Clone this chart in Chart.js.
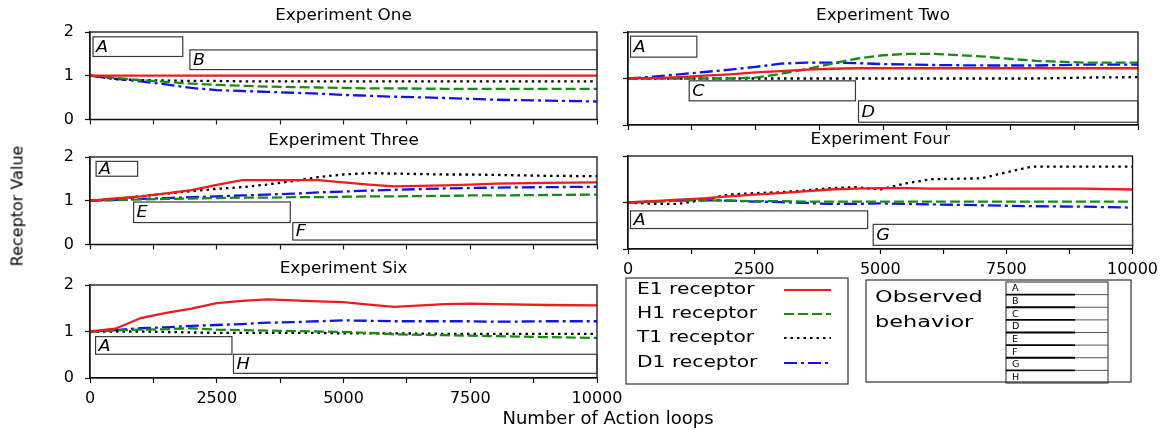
<!DOCTYPE html>
<html>
<head>
<meta charset="utf-8">
<title>Receptor values per experiment</title>
<script src="https://cdn.jsdelivr.net/npm/chart.js@4.4.1/dist/chart.umd.min.js"></script>
<style>
  html, body { margin: 0; padding: 0; background: #fff; }
  body { width: 1164px; height: 434px; position: relative; overflow: hidden; font-family: 'DejaVu Sans', sans-serif; }
  .panel { position: absolute; }
  .panel canvas { display: block; }
  .left-col { left: 0; width: 640px; }
  .right-col { left: 560px; width: 604px; }
  .axis-label { position: absolute; white-space: nowrap; color: #000; }
  .y-label { left: 17px; top: 206px; font-size: 16px; transform: translate(-50%, -50%) rotate(-90deg); }
  .x-label { left: 608px; top: 417px; font-size: 18px; transform: translate(-50%, -50%); }
</style>
</head>
<body>

<div class="panel left-col" style="top:0;height:140px"><canvas id="expOne"></canvas></div>
<div class="panel right-col" style="top:0;height:140px"><canvas id="expTwo"></canvas></div>
<div class="panel left-col" style="top:125px;height:140px"><canvas id="expThree"></canvas></div>
<div class="panel left-col" style="top:253px;height:181px"><canvas id="expSix"></canvas></div>
<div class="panel right-col" style="top:124px;height:310px"><canvas id="expFour"></canvas></div>

<div class="axis-label y-label">Receptor Value</div>
<div class="axis-label x-label">Number of Action loops</div>

<script>
// ---------- data ----------
var loops = [0, 500, 1000, 1500, 2000, 2500, 3000, 3500, 4000, 4500, 5000, 5500, 6000, 7000, 7500, 8000, 9000, 10000];
var receptorNames = ['E1 receptor', 'H1 receptor', 'T1 receptor', 'D1 receptor'];
var xTickLabels = ['0', '2500', '5000', '7500', '10000'];
var yTickLabels = ['0', '1', '2'];

// Experiment One
var oneE1 = [1, 1, 1, 1, 1, 1, 1, 1, 1, 1, 1, 1, 1, 1, 1, 1, 1, 1];
var oneH1 = [1, 0.95, 0.9, 0.86, 0.82, 0.79, 0.77, 0.75, 0.74, 0.73, 0.72, 0.71, 0.71, 0.7, 0.7, 0.7, 0.7, 0.7];
var oneT1 = [1, 0.92, 0.9, 0.89, 0.88, 0.88, 0.87, 0.87, 0.87, 0.87, 0.87, 0.87, 0.87, 0.87, 0.87, 0.87, 0.87, 0.87];
var oneD1 = [1, 0.93, 0.87, 0.8, 0.72, 0.67, 0.65, 0.63, 0.61, 0.59, 0.56, 0.54, 0.52, 0.49, 0.47, 0.45, 0.43, 0.41];

// Experiment Two
var twoE1 = [1, 1.01, 1.03, 1.06, 1.09, 1.13, 1.16, 1.19, 1.21, 1.22, 1.22, 1.22, 1.22, 1.22, 1.22, 1.22, 1.22, 1.22];
var twoH1 = [1, 1, 1, 1, 1, 1.02, 1.1, 1.2, 1.32, 1.43, 1.5, 1.53, 1.53, 1.47, 1.42, 1.38, 1.34, 1.34];
var twoT1 = [1, 1, 1, 1, 1, 1, 1, 1, 1, 1, 1, 1, 1, 1, 1, 1, 1.02, 1.03];
var twoD1 = [1, 1.04, 1.09, 1.14, 1.19, 1.25, 1.32, 1.34, 1.34, 1.33, 1.31, 1.3, 1.29, 1.28, 1.28, 1.28, 1.3, 1.3];

// Experiment Three
var threeE1 = [1, 1.05, 1.1, 1.17, 1.24, 1.36, 1.47, 1.47, 1.47, 1.47, 1.42, 1.37, 1.33, 1.35, 1.37, 1.39, 1.41, 1.42];
var threeH1 = [1, 1.01, 1.03, 1.04, 1.05, 1.06, 1.07, 1.07, 1.08, 1.08, 1.09, 1.1, 1.1, 1.11, 1.12, 1.12, 1.13, 1.14];
var threeT1 = [1, 1.04, 1.1, 1.16, 1.22, 1.27, 1.31, 1.37, 1.45, 1.54, 1.6, 1.63, 1.62, 1.6, 1.6, 1.59, 1.57, 1.56];
var threeD1 = [1, 1.02, 1.04, 1.06, 1.08, 1.1, 1.12, 1.14, 1.16, 1.19, 1.21, 1.23, 1.25, 1.28, 1.29, 1.3, 1.31, 1.32];

// Experiment Four
var fourE1 = [1, 1.03, 1.06, 1.09, 1.13, 1.17, 1.2, 1.24, 1.28, 1.3, 1.31, 1.31, 1.3, 1.3, 1.3, 1.3, 1.3, 1.28];
var fourH1 = [1, 1.02, 1.04, 1.05, 1.04, 1.03, 1.03, 1.02, 1.02, 1.02, 1.02, 1.02, 1.02, 1.02, 1.02, 1.02, 1.02, 1.02];
var fourT1 = [1, 0.97, 0.97, 1.06, 1.17, 1.2, 1.22, 1.26, 1.31, 1.33, 1.28, 1.41, 1.5, 1.52, 1.65, 1.77, 1.77, 1.77];
var fourD1 = [1, 1.02, 1.04, 1.05, 1.04, 1.02, 1.01, 0.99, 0.97, 0.97, 0.98, 0.97, 0.96, 0.94, 0.93, 0.92, 0.91, 0.89];

// Experiment Six
var sixE1 = [1, 1.06, 1.29, 1.4, 1.49, 1.61, 1.66, 1.69, 1.67, 1.65, 1.63, 1.58, 1.53, 1.59, 1.6, 1.59, 1.57, 1.56];
var sixH1 = [1, 1.02, 1.04, 1.05, 1.07, 1.04, 1.03, 1.02, 1.01, 1, 0.99, 0.97, 0.94, 0.92, 0.91, 0.9, 0.88, 0.86];
var sixT1 = [1, 1, 1, 0.99, 0.98, 0.97, 0.97, 0.97, 0.97, 0.97, 0.96, 0.96, 0.96, 0.95, 0.95, 0.95, 0.95, 0.95];
var sixD1 = [1, 1.03, 1.07, 1.09, 1.12, 1.14, 1.16, 1.19, 1.2, 1.22, 1.24, 1.23, 1.22, 1.22, 1.22, 1.21, 1.22, 1.22];

// observed behaviour intervals (action loops)
var oneBehavior = ['A', 'B'];
var oneFrom = [60, 1970];
var oneTo = [1830, 10000];
var twoBehavior = ['A', 'C', 'D'];
var twoFrom = [50, 1200, 4520];
var twoTo = [1350, 4460, 10000];
var threeBehavior = ['A', 'E', 'F'];
var threeFrom = [120, 860, 4000];
var threeTo = [940, 3950, 10000];
var fourBehavior = ['A', 'G'];
var fourFrom = [50, 4860];
var fourTo = [4750, 10000];
var sixBehavior = ['A', 'H'];
var sixFrom = [110, 2830];
var sixTo = [2800, 10000];
var allBehaviors = ['A', 'B', 'C', 'D', 'E', 'F', 'G', 'H'];

// ---------- layout / style ----------
var boxLevels = {
  expOne: [[1.89, 1.44], [1.59, 1.14]],
  expTwo: [[1.91, 1.46], [0.95, 0.52], [0.52, 0.06]],
  expThree: [[1.9, 1.56], [0.97, 0.5], [0.5, 0.1]],
  expFour: [[0.82, 0.44], [0.53, 0.08]],
  expSix: [[0.89, 0.51], [0.51, 0.1]]
};

var receptorStyle = [
  { color: '#ee1c1c', dash: [] },
  { color: '#168c16', dash: [10, 4] },
  { color: '#000000', dash: [2.5, 4] },
  { color: '#1212ee', dash: [13, 4, 3, 4] }
];

Chart.defaults.font.family = "'DejaVu Sans', sans-serif";
Chart.defaults.color = '#000';

function stretchedText(ctx, text, x, y, sx) {
  ctx.save();
  ctx.translate(x, y);
  ctx.scale(sx, 1);
  ctx.fillText(text, 0, 0);
  ctx.restore();
}

// frame, title and behaviour boxes of each panel
var panelDecor = {
  id: 'panelDecor',
  afterDatasetsDraw: function (chart, args, opts) {
    var ctx = chart.ctx, a = chart.chartArea, x = chart.scales.x, y = chart.scales.y;
    ctx.save();
    ctx.strokeStyle = '#111';
    ctx.lineWidth = 1.3;
    ctx.strokeRect(a.left, a.top, a.right - a.left, a.bottom - a.top);

    ctx.lineWidth = 1.2;
    ctx.strokeStyle = '#3a3a3a';
    ctx.fillStyle = '#000';
    ctx.font = 'italic 16px "DejaVu Sans"';
    ctx.textAlign = 'left';
    ctx.textBaseline = 'middle';
    opts.boxes.forEach(function (b) {
      var l = x.getPixelForValue(b.from), r = x.getPixelForValue(b.to);
      var t = y.getPixelForValue(b.top), btm = y.getPixelForValue(b.bottom);
      ctx.strokeRect(l, t, r - l, btm - t);
      stretchedText(ctx, b.label, l + 3, (t + btm) / 2 + 1, 1.1);
    });

    ctx.font = '16px "DejaVu Sans"';
    ctx.textAlign = 'center';
    stretchedText(ctx, opts.title, (a.left + a.right) / 2, a.top - 16, 1.05);
    ctx.restore();
  }
};

// legend cell (bottom right), drawn on the Experiment Four canvas
var receptorLegend = {
  id: 'receptorLegend',
  afterDraw: function (chart, args, opts) {
    var ctx = chart.ctx, ox = opts.originX, oy = opts.originY;
    ctx.save();
    ctx.translate(-ox, -oy);
    ctx.strokeStyle = '#333';
    ctx.lineWidth = 1.2;
    ctx.strokeRect(626, 278, 222, 106);

    var rowsY = [290, 314, 338, 363];
    ctx.font = '15px "DejaVu Sans"';
    ctx.fillStyle = '#000';
    ctx.textAlign = 'left';
    ctx.textBaseline = 'middle';
    chart.data.datasets.forEach(function (ds, i) {
      stretchedText(ctx, ds.label, 637, rowsY[i], 1.35);
      ctx.save();
      ctx.strokeStyle = ds.borderColor;
      ctx.lineWidth = 2.2;
      ctx.setLineDash(ds.borderDash);
      ctx.beginPath();
      ctx.moveTo(784, rowsY[i]);
      ctx.lineTo(831, rowsY[i]);
      ctx.stroke();
      ctx.restore();
    });

    // observed behaviour key
    ctx.strokeStyle = '#333';
    ctx.strokeRect(866, 280, 265, 102);
    ctx.font = '16px "DejaVu Sans"';
    stretchedText(ctx, 'Observed', 875, 298, 1.4);
    stretchedText(ctx, 'behavior', 875, 323, 1.4);

    var tl = 1006, tr = 1108, tt = 282, tb = 383;
    var rowH = (tb - tt) / opts.behaviors.length;
    ctx.strokeStyle = '#222';
    ctx.lineWidth = 1;
    ctx.strokeRect(tl, tt, tr - tl, tb - tt);
    ctx.font = '8px "DejaVu Sans"';
    opts.behaviors.forEach(function (lab, i) {
      var top = tt + i * rowH;
      stretchedText(ctx, lab, tl + 6, top + rowH / 2 + 1, 1.2);
      if (i < opts.behaviors.length - 1) {
        ctx.strokeStyle = '#000';
        ctx.lineWidth = 1.8;
        ctx.beginPath();
        ctx.moveTo(tl, top + rowH);
        ctx.lineTo(1075, top + rowH);
        ctx.stroke();
        ctx.strokeStyle = '#555';
        ctx.lineWidth = 1;
        ctx.beginPath();
        ctx.moveTo(1075, top + rowH);
        ctx.lineTo(tr, top + rowH);
        ctx.stroke();
      }
    });
    ctx.restore();
  }
};

function buildDatasets(series) {
  return series.map(function (vals, i) {
    return {
      label: receptorNames[i],
      data: loops.map(function (lx, k) { return { x: lx, y: vals[k] }; }),
      borderColor: receptorStyle[i].color,
      borderDash: receptorStyle[i].dash,
      borderWidth: 2.3,
      pointRadius: 0,
      tension: 0,
      fill: false
    };
  });
}

function buildBoxes(key, labels, from, to) {
  return labels.map(function (lab, i) {
    return { label: lab, from: from[i], to: to[i], top: boxLevels[key][i][0], bottom: boxLevels[key][i][1] };
  });
}

function makePanel(id, title, series, boxes, cfg) {
  var extraPlugins = [panelDecor];
  var pluginOpts = {
    legend: { display: false },
    tooltip: { enabled: false },
    panelDecor: { title: title, boxes: boxes }
  };
  if (cfg.legend) {
    extraPlugins.push(receptorLegend);
    pluginOpts.receptorLegend = cfg.legend;
  }
  return new Chart(document.getElementById(id), {
    type: 'line',
    data: { datasets: buildDatasets(series) },
    plugins: extraPlugins,
    options: {
      animation: false,
      responsive: true,
      maintainAspectRatio: false,
      events: [],
      layout: { autoPadding: false, padding: cfg.padding },
      plugins: pluginOpts,
      scales: {
        x: {
          type: 'linear',
          min: 0,
          max: 10000,
          afterFit: function (s) { s.height = cfg.xHeight; },
          border: { display: true, color: '#111', width: 1.3 },
          grid: { drawOnChartArea: false, drawTicks: true, tickLength: 5, tickColor: '#111', tickWidth: 1.2 },
          ticks: {
            stepSize: 1250,
            autoSkip: false,
            maxRotation: 0,
            minRotation: 0,
            padding: 6,
            font: { size: 16 },
            color: '#000',
            display: cfg.xLabels,
            callback: function (v) {
              var idx = xTickLabels.indexOf(String(v));
              return idx >= 0 ? xTickLabels[idx] : '';
            }
          }
        },
        y: {
          min: 0,
          max: 2,
          afterFit: function (s) { s.width = cfg.yWidth; },
          border: { display: true, color: '#111', width: 1.3 },
          grid: { drawOnChartArea: false, drawTicks: true, tickLength: 5, tickColor: '#111', tickWidth: 1.2 },
          ticks: {
            stepSize: 1,
            padding: 11,
            font: { size: 16 },
            color: '#000',
            display: cfg.yLabels,
            callback: function (v) {
              var idx = yTickLabels.indexOf(String(v));
              return idx >= 0 ? yTickLabels[idx] : '';
            }
          }
        }
      }
    }
  });
}

makePanel('expOne', 'Experiment One', [oneE1, oneH1, oneT1, oneD1],
  buildBoxes('expOne', oneBehavior, oneFrom, oneTo),
  { padding: { top: 32, right: 43, bottom: 5, left: 0 }, xHeight: 10, yWidth: 90, xLabels: false, yLabels: true });

makePanel('expTwo', 'Experiment Two', [twoE1, twoH1, twoT1, twoD1],
  buildBoxes('expTwo', twoBehavior, twoFrom, twoTo),
  { padding: { top: 32, right: 26, bottom: 5, left: 0 }, xHeight: 10, yWidth: 68, xLabels: false, yLabels: false });

makePanel('expThree', 'Experiment Three', [threeE1, threeH1, threeT1, threeD1],
  buildBoxes('expThree', threeBehavior, threeFrom, threeTo),
  { padding: { top: 32, right: 43, bottom: 5, left: 0 }, xHeight: 10, yWidth: 90, xLabels: false, yLabels: true });

makePanel('expFour', 'Experiment Four', [fourE1, fourH1, fourT1, fourD1],
  buildBoxes('expFour', fourBehavior, fourFrom, fourTo),
  { padding: { top: 32, right: 26, bottom: 155, left: 0 }, xHeight: 30, yWidth: 68, xLabels: true, yLabels: false,
    legend: { originX: 560, originY: 124, behaviors: allBehaviors } });

makePanel('expSix', 'Experiment Six', [sixE1, sixH1, sixT1, sixD1],
  buildBoxes('expSix', sixBehavior, sixFrom, sixTo),
  { padding: { top: 32, right: 43, bottom: 26, left: 0 }, xHeight: 30, yWidth: 90, xLabels: true, yLabels: true });
</script>
</body>
</html>
